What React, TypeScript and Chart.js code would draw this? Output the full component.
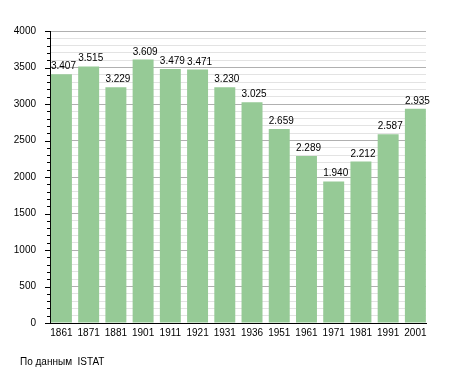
import React, { useEffect, useRef } from "react";
import { Chart, registerables } from "chart.js";

Chart.register(...registerables);

const years = ["1861", "1871", "1881", "1901", "1911", "1921", "1931", "1936", "1951", "1961", "1971", "1981", "1991", "2001"];
const population = [3407, 3515, 3229, 3609, 3479, 3471, 3230, 3025, 2659, 2289, 1940, 2212, 2587, 2935];
const yMax = 4000;
const majorStep = 500;
const minorStep = 100;
const sourceText = "По данным  ISTAT";

const FONT = "'Liberation Sans', Arial, sans-serif";

function fmt(v: number): string {
  const s = String(v);
  return s.replace(/\B(?=(\d{3})+(?!\d))/g, ".");
}

const yTickMarks = {
  id: "yTickMarks",
  afterDraw(chart: any) {
    const y = chart.scales.y;
    const ctx = chart.ctx;
    const left = chart.chartArea.left;
    ctx.save();
    ctx.strokeStyle = "#000";
    ctx.lineWidth = 1;
    for (let v = 0; v <= yMax; v += minorStep) {
      const py = Math.round(y.getPixelForValue(v)) + 0.5;
      const len = v % majorStep === 0 ? 5 : 3;
      ctx.beginPath();
      ctx.moveTo(left - len, py);
      ctx.lineTo(left, py);
      ctx.stroke();
    }
    ctx.restore();
  },
};

const valueLabels = {
  id: "valueLabels",
  afterDatasetsDraw(chart: any) {
    const ctx = chart.ctx;
    const meta = chart.getDatasetMeta(0);
    ctx.save();
    ctx.font = `10px ${FONT}`;
    ctx.fillStyle = "#000";
    ctx.textAlign = "left";
    ctx.textBaseline = "alphabetic";
    meta.data.forEach((bar: any, i: number) => {
      const p = bar.getProps(["x", "y", "width"], true);
      ctx.fillText(fmt(population[i]), p.x - p.width / 2, p.y - 5);
    });
    ctx.restore();
  },
};

export default function App() {
  const ref = useRef<HTMLCanvasElement>(null);

  useEffect(() => {
    document.body.style.margin = "0";
    const chart = new Chart(ref.current!, {
      type: "bar",
      data: {
        datasets: [
          {
            data: population.map((v, i) => ({ x: i, y: v })),
            backgroundColor: "#96CA96",
            borderWidth: 0,
            barPercentage: 0.77,
            categoryPercentage: 1,
          },
        ],
      },
      options: {
        animation: false,
        responsive: false,
        devicePixelRatio: 1,
        layout: { padding: { top: 31, right: 29, left: 0, bottom: 0 } },
        plugins: { legend: { display: false }, tooltip: { enabled: false } },
        scales: {
          x: {
            type: "linear",
            min: -0.42,
            max: 13.39,
            offset: false,
            afterBuildTicks: (scale: any) => {
              scale.ticks = years.map((_, i) => ({ value: i }));
            },
            afterFit: (scale: any) => {
              scale.height = 50;
            },
            grid: { display: false, drawTicks: false },
            border: { color: "#000", width: 1 },
            ticks: {
              autoSkip: false,
              maxRotation: 0,
              padding: 4,
              color: "#000",
              font: { family: FONT, size: 10 },
              callback: (v: any) => years[v] ?? "",
            },
          },
          y: {
            min: 0,
            max: yMax,
            afterFit: (scale: any) => {
              scale.width = 50;
            },
            grid: {
              drawTicks: false,
              color: (c: any) => (c.tick && c.tick.value % majorStep === 0 ? "#b0b0b0" : "#e3e3e3"),
            },
            border: { color: "#000", width: 1 },
            ticks: {
              stepSize: minorStep,
              autoSkip: false,
              padding: 14,
              color: "#000",
              font: { family: FONT, size: 10 },
              callback: (v: any) => (Number(v) % majorStep === 0 ? String(v) : ""),
            },
          },
        },
      },
      plugins: [yTickMarks, valueLabels],
    } as any);
    return () => chart.destroy();
  }, []);

  return (
    <div style={{ position: "relative", width: 455, height: 373 }}>
      <canvas ref={ref} width={455} height={373} style={{ display: "block" }} />
      <div
        style={{
          position: "absolute",
          left: 20,
          top: 356,
          fontFamily: FONT,
          fontSize: 10,
          color: "#000",
          whiteSpace: "pre",
          lineHeight: "12px",
        }}
      >
        {sourceText}
      </div>
    </div>
  );
}
